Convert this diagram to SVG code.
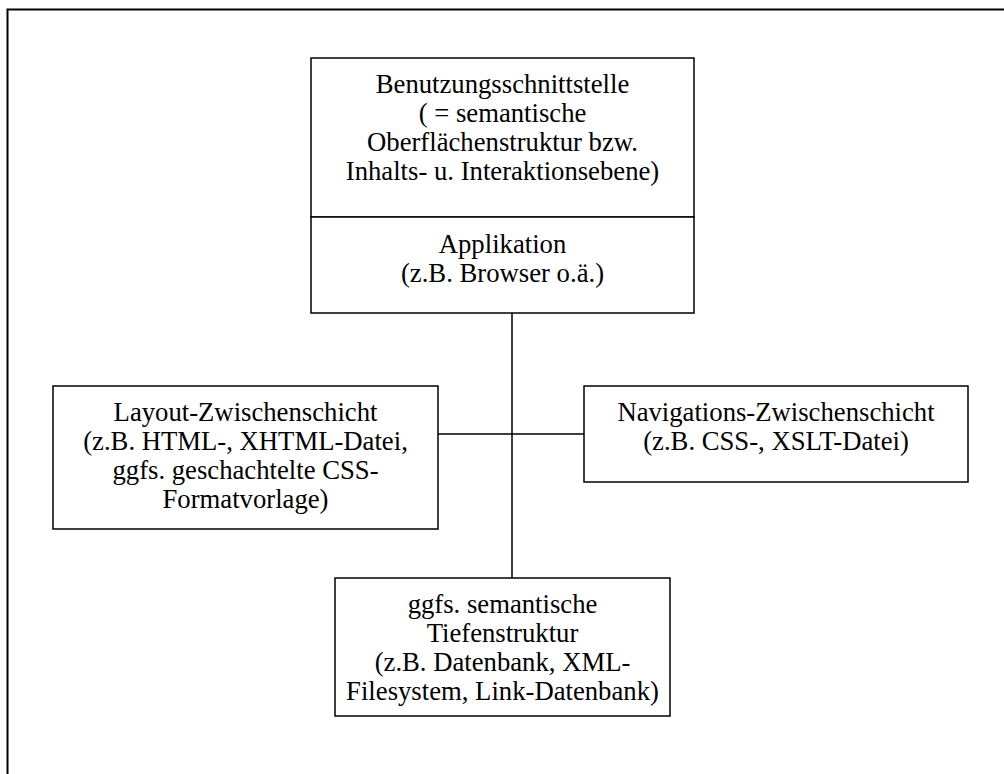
<svg xmlns="http://www.w3.org/2000/svg" width="1004" height="774" viewBox="0 0 1004 774">
<style>
.box{fill:#fff;stroke:#000;stroke-width:1.5}
.ln{stroke:#000;stroke-width:1.5;fill:none}
.frame{stroke:#000;stroke-width:2;fill:none}
text{font-family:"Liberation Serif","Times New Roman",serif;font-size:26.7px;fill:#000;text-anchor:middle}
</style>
<rect width="1004" height="774" fill="#fff"/>
<path class="frame" d="M7.5,774 V9.5 H1004"/>
<g id="connectors">
<line class="ln" x1="512" y1="313" x2="512" y2="578"/>
<line class="ln" x1="438" y1="434" x2="584" y2="434"/>
</g>
<g id="node-benutzung">
<rect class="box" x="311" y="58" width="383" height="159"/>
<text x="502.5" y="92.5">Benutzungsschnittstelle</text>
<text x="502.5" y="121.8">( = semantische</text>
<text x="502.5" y="151">Oberflächenstruktur bzw.</text>
<text x="502.5" y="180.3">Inhalts- u. Interaktionsebene)</text>
</g>
<g id="node-applikation">
<rect class="box" x="311" y="217" width="383" height="96"/>
<text x="502.5" y="253">Applikation</text>
<text x="502.5" y="282">(z.B. Browser o.ä.)</text>
</g>
<g id="node-layout">
<rect class="box" x="53" y="386" width="385" height="143"/>
<text x="245.5" y="420.7">Layout-Zwischenschicht</text>
<text x="245.5" y="449.7">(z.B. HTML-, XHTML-Datei,</text>
<text x="245.5" y="478.7">ggfs. geschachtelte CSS-</text>
<text x="245.5" y="507.7">Formatvorlage)</text>
</g>
<g id="node-navigation">
<rect class="box" x="584" y="386" width="384" height="96"/>
<text x="776" y="420.7">Navigations-Zwischenschicht</text>
<text x="776" y="449.7">(z.B. CSS-, XSLT-Datei)</text>
</g>
<g id="node-tiefenstruktur">
<rect class="box" x="335" y="578" width="335" height="138"/>
<text x="502.5" y="613">ggfs. semantische</text>
<text x="502.5" y="642">Tiefenstruktur</text>
<text x="502.5" y="671">(z.B. Datenbank, XML-</text>
<text x="502.5" y="700">Filesystem, Link-Datenbank)</text>
</g>
</svg>
